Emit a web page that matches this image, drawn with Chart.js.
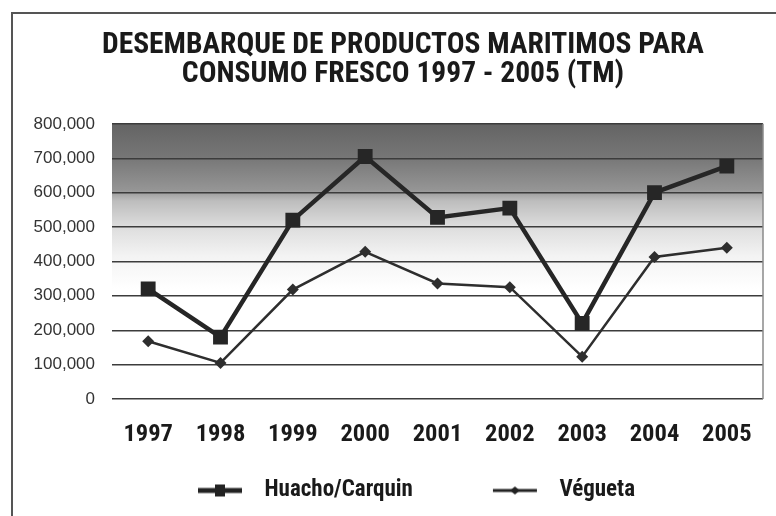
<!DOCTYPE html>
<html>
<head>
<meta charset="utf-8">
<script src="https://cdn.jsdelivr.net/npm/chart.js@4/dist/chart.umd.min.js"></script>
<style>
  html, body { margin: 0; padding: 0; background: #fff; }
  #wrap { width: 776px; height: 516px; position: relative; }
</style>
</head>
<body>
<div id="wrap"><canvas id="c" width="776" height="516"></canvas></div>
<script>
// Landings of marine products for fresh consumption, metric tonnes
const years = ['1997', '1998', '1999', '2000', '2001', '2002', '2003', '2004', '2005'];
const huachoCarquin = [320000, 180000, 520000, 705000, 528000, 555000, 220000, 600000, 677000];
const vegueta = [168000, 105000, 318000, 428000, 336000, 325000, 123000, 413000, 440000];
const yTickValues = [0, 100000, 200000, 300000, 400000, 500000, 600000, 700000, 800000];
const seriesNames = ['Huacho/Carquin', 'Végueta'];
const titleLines = ['DESEMBARQUE DE PRODUCTOS MARITIMOS PARA', 'CONSUMO FRESCO 1997 - 2005 (TM)'];

const NARROW = "'Liberation Sans Narrow', 'Arial Narrow', 'Roboto Condensed', 'Liberation Sans', sans-serif";
const REGULAR = "'Liberation Sans', Arial, sans-serif";
const INK = '#222222';

// legend swatch: a short line with the series marker on it, sitting at the
// right of a wider transparent strip so the items spread apart
const SW_W = 105, SW_LEFT = 50, SW_LEN = 44;
function legendSwatch(kind) {
  const cv = document.createElement('canvas');
  cv.width = SW_W; cv.height = 16;
  const g = cv.getContext('2d');
  g.strokeStyle = INK; g.fillStyle = INK;
  const x0 = SW_LEFT, x1 = SW_LEFT + SW_LEN, cy = 8, cx = (x0 + x1) / 2;
  g.lineWidth = kind === 'rect' ? 5 : 3;
  g.beginPath(); g.moveTo(x0, cy); g.lineTo(x1, cy); g.stroke();
  if (kind === 'rect') {
    g.fillRect(cx - 5, cy - 6, 10, 12);
  } else {
    g.beginPath();
    g.moveTo(cx - 5, cy); g.lineTo(cx, cy - 4); g.lineTo(cx + 5, cy); g.lineTo(cx, cy + 4);
    g.closePath(); g.fill();
  }
  return cv;
}
const swatches = [legendSwatch('rect'), legendSwatch('rectRot')];

// page frame and the shaded plot background
const backdrop = {
  id: 'backdrop',
  afterLayout(chart) {
    // the heading and the key sit a little right of the canvas centre
    const t = chart.titleBlock;
    if (t) { t.left += 33; }
    const lg = chart.legend;
    if (lg) { lg.left += 5; lg.right += 5; }
  },
  beforeDraw(chart) {
    const { ctx, chartArea: a } = chart;
    ctx.save();
    ctx.fillStyle = '#ffffff';
    ctx.fillRect(0, 0, chart.width, chart.height);
    const grad = ctx.createLinearGradient(0, a.top, 0, a.bottom);
    grad.addColorStop(0.00, '#646464');
    grad.addColorStop(0.12, '#767676');
    grad.addColorStop(0.24, '#959595');
    grad.addColorStop(0.28, '#bdbdbd');
    grad.addColorStop(0.37, '#dcdcdc');
    grad.addColorStop(0.48, '#f3f3f3');
    grad.addColorStop(0.60, '#ffffff');
    grad.addColorStop(1.00, '#ffffff');
    ctx.fillStyle = grad;
    ctx.fillRect(a.left, a.top, a.right - a.left, a.bottom - a.top);
    ctx.strokeStyle = '#555555';
    ctx.lineWidth = 2;
    ctx.beginPath();
    ctx.moveTo(12, chart.height); ctx.lineTo(12, 13); ctx.lineTo(chart.width, 13);
    ctx.stroke();
    ctx.restore();
  },
  afterDatasetsDraw(chart) {
    const { ctx, chartArea: a } = chart;
    ctx.save();
    ctx.strokeStyle = '#8a8a8a';
    ctx.lineWidth = 1.5;
    ctx.beginPath(); ctx.moveTo(a.right, a.top); ctx.lineTo(a.right, a.bottom); ctx.stroke();
    ctx.restore();
  }
};

new Chart(document.getElementById('c'), {
  type: 'line',
  data: {
    labels: years,
    datasets: [
      {
        label: seriesNames[0],
        data: huachoCarquin,
        borderColor: '#262626',
        backgroundColor: '#262626',
        borderWidth: 4.5,
        pointStyle: 'rect',
        pointRadius: 10.5,
        pointBackgroundColor: '#262626',
        pointBorderColor: '#262626',
        pointBorderWidth: 0,
        tension: 0
      },
      {
        label: seriesNames[1],
        data: vegueta,
        borderColor: '#2e2e2e',
        backgroundColor: '#2e2e2e',
        borderWidth: 2.5,
        pointStyle: 'rectRot',
        pointRadius: 6,
        pointBackgroundColor: '#2e2e2e',
        pointBorderColor: '#2e2e2e',
        pointBorderWidth: 0,
        tension: 0
      }
    ]
  },
  options: {
    responsive: false,
    animation: false,
    devicePixelRatio: 1,
    layout: { padding: { left: 10, right: 13, top: 0, bottom: 4 } },
    plugins: {
      title: {
        display: true,
        text: titleLines,
        color: '#1a1a1a',
        font: { family: NARROW, size: 29.5, weight: 'bold', lineHeight: 0.98 },
        padding: { top: 31, bottom: 35 }
      },
      legend: {
        display: true,
        position: 'bottom',
        align: 'center',
        labels: {
          usePointStyle: true,
          pointStyleWidth: SW_W,
          padding: 30,
          color: '#1a1a1a',
          font: { family: NARROW, size: 23, weight: 'bold' },
          generateLabels(chart) {
            return chart.data.datasets.map((ds, i) => ({
              text: ds.label,
              pointStyle: swatches[i],
              fillStyle: 'transparent',
              strokeStyle: 'transparent',
              lineWidth: 0,
              fontColor: '#1a1a1a',
              datasetIndex: i,
              hidden: false
            }));
          }
        }
      },
      tooltip: { enabled: false }
    },
    scales: {
      x: {
        offset: true,
        grid: { display: false, drawTicks: false },
        border: { display: false },
        ticks: {
          color: '#1a1a1a',
          padding: 21,
          font: { family: NARROW, size: 24.5, weight: 'bold' }
        },
        afterFit(scale) { scale.height = 50; }
      },
      y: {
        min: 0,
        max: 800000,
        afterBuildTicks(scale) { scale.ticks = yTickValues.map(v => ({ value: v })); },
        grid: { color: '#3c3c3c', lineWidth: 1.4, drawTicks: false },
        border: { display: false },
        ticks: {
          color: '#333333',
          padding: 17,
          font: { family: REGULAR, size: 17 },
          callback: v => v.toLocaleString('en-US')
        },
        afterFit(scale) { scale.width = 102; }
      }
    }
  },
  plugins: [backdrop]
});
</script>
</body>
</html>
